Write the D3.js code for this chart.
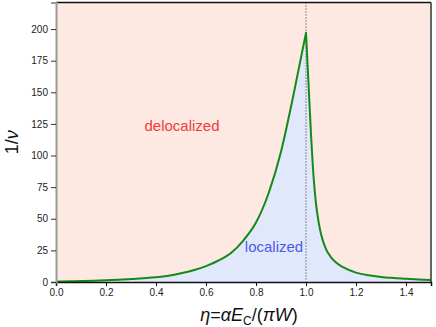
<!DOCTYPE html>
<html>
<head>
<meta charset="utf-8">
<script src="https://cdn.jsdelivr.net/npm/d3@7"></script>
<style>
  html, body { margin: 0; padding: 0; background: #fff; }
  svg { display: block; font-family: "Liberation Sans", Arial, Helvetica, sans-serif; }
  .tick text { font-size: 10px; fill: #222; }
</style>
</head>
<body>
<div id="chart"></div>
<script>
// 1/nu versus eta.
var eta = [0, 0.05, 0.1, 0.15, 0.2, 0.25, 0.3, 0.35, 0.4, 0.45, 0.5, 0.55, 0.6, 0.65,
           0.7, 0.75, 0.8, 0.85, 0.9, 0.95, 1.0, 1.01, 1.02, 1.03, 1.04, 1.05, 1.06,
           1.08, 1.1, 1.12, 1.15, 1.2, 1.25, 1.3, 1.35, 1.4, 1.45, 1.5];
var invNu = [0.3, 0.5, 0.7, 1.0, 1.4, 1.8, 2.3, 3.0, 3.8, 5.0, 6.9, 9.3, 12.5, 17,
             23, 33, 47, 70, 103, 148, 197, 157, 117, 84, 62, 48, 38,
             26, 19.5, 15.5, 11.5, 7.4, 5.3, 4.0, 3.2, 2.6, 2.0, 1.6];
var xTicks = [0, 0.2, 0.4, 0.6, 0.8, 1.0, 1.2, 1.4];
var yTicks = [0, 25, 50, 75, 100, 125, 150, 175, 200];
var critical = 1.0;

(function () {
  var W = 436, H = 327;
  var m = { left: 56, right: 5, top: 2.5, bottom: 45 };
  var pts = eta.map(function (e, i) { return { x: e, y: invNu[i] }; });
  // the cusp at eta = 1 stays sharp: smooth each branch on its own
  var leftPts = pts.filter(function (d) { return d.x <= critical; });
  var rightPts = pts.filter(function (d) { return d.x >= critical; });

  var x = d3.scaleLinear().domain([0, 1.5]).range([m.left, W - m.right]);
  var y = d3.scaleLinear().domain([0, 221]).range([H - m.bottom, m.top]);

  var line = d3.line()
    .x(function (d) { return x(d.x); })
    .y(function (d) { return y(d.y); })
    .curve(d3.curveMonotoneX);
  var curveD = line(leftPts) + "L" + line(rightPts).slice(1);

  var svg = d3.select("#chart").append("svg").attr("width", W).attr("height", H);

  // delocalized background, localized area under the curve
  svg.append("rect")
    .attr("x", x(0)).attr("y", y(221))
    .attr("width", x(1.5) - x(0)).attr("height", y(0) - y(221))
    .attr("fill", "#fde8e2");

  svg.append("path")
    .attr("fill", "#e2e8fb")
    .attr("d", curveD + "L" + x(1.5) + "," + y(0) + "L" + x(0) + "," + y(0) + "Z");

  svg.append("line")
    .attr("x1", x(critical)).attr("x2", x(critical))
    .attr("y1", y(221)).attr("y2", y(0))
    .attr("stroke", "#333").attr("stroke-width", 1)
    .attr("stroke-dasharray", "1,2");

  svg.append("path")
    .attr("fill", "none")
    .attr("stroke", "#15891a").attr("stroke-width", 2)
    .attr("stroke-linejoin", "round")
    .attr("d", curveD);

  // frame
  svg.append("line")
    .attr("x1", x(0)).attr("x2", x(1.5)).attr("y1", y(221)).attr("y2", y(221))
    .attr("stroke", "#111").attr("stroke-width", 1.5);
  svg.append("line")
    .attr("x1", x(1.5)).attr("x2", x(1.5)).attr("y1", y(221)).attr("y2", y(0))
    .attr("stroke", "#333").attr("stroke-width", 1.5);

  var xAxis = svg.append("g")
    .attr("transform", "translate(0," + y(0) + ")")
    .call(d3.axisBottom(x).tickValues(xTicks).tickFormat(d3.format(".1f"))
      .tickSize(4).tickPadding(3));
  xAxis.select(".domain").attr("stroke", "#111").attr("stroke-width", 1.5);
  xAxis.selectAll(".tick line").attr("stroke", "#111");

  var yAxis = svg.append("g")
    .attr("transform", "translate(" + x(0) + ",0)")
    .call(d3.axisLeft(y).tickValues(yTicks).tickSize(5).tickPadding(3));
  yAxis.select(".domain").attr("stroke", "#9a9a9a").attr("stroke-width", 2);
  yAxis.selectAll(".tick line").attr("stroke", "#333");

  // region labels
  svg.append("text")
    .attr("x", 182).attr("y", 131)
    .attr("text-anchor", "middle")
    .attr("font-size", 15).attr("fill", "#f03c3c")
    .text("delocalized");
  svg.append("text")
    .attr("x", 274).attr("y", 252)
    .attr("text-anchor", "middle")
    .attr("font-size", 15).attr("fill", "#4a5ae8")
    .text("localized");

  // axis titles
  var yl = svg.append("text")
    .attr("transform", "translate(18," + (m.top + (y(0) - m.top) / 2) + ") rotate(-90)")
    .attr("text-anchor", "middle")
    .attr("font-size", 18).attr("fill", "#111");
  yl.append("tspan").text("1/");
  yl.append("tspan").attr("font-style", "italic").text("ν");

  var xl = svg.append("text")
    .attr("x", 249).attr("y", 321)
    .attr("text-anchor", "middle")
    .attr("font-size", 18).attr("fill", "#111");
  xl.append("tspan").attr("font-style", "italic").text("η");
  xl.append("tspan").text("=");
  xl.append("tspan").attr("font-style", "italic").text("αE");
  xl.append("tspan").attr("font-size", 12).attr("dy", 4).text("C");
  xl.append("tspan").attr("dy", -4).text("/(");
  xl.append("tspan").attr("font-style", "italic").text("πW");
  xl.append("tspan").text(")");
})();
</script>
</body>
</html>
